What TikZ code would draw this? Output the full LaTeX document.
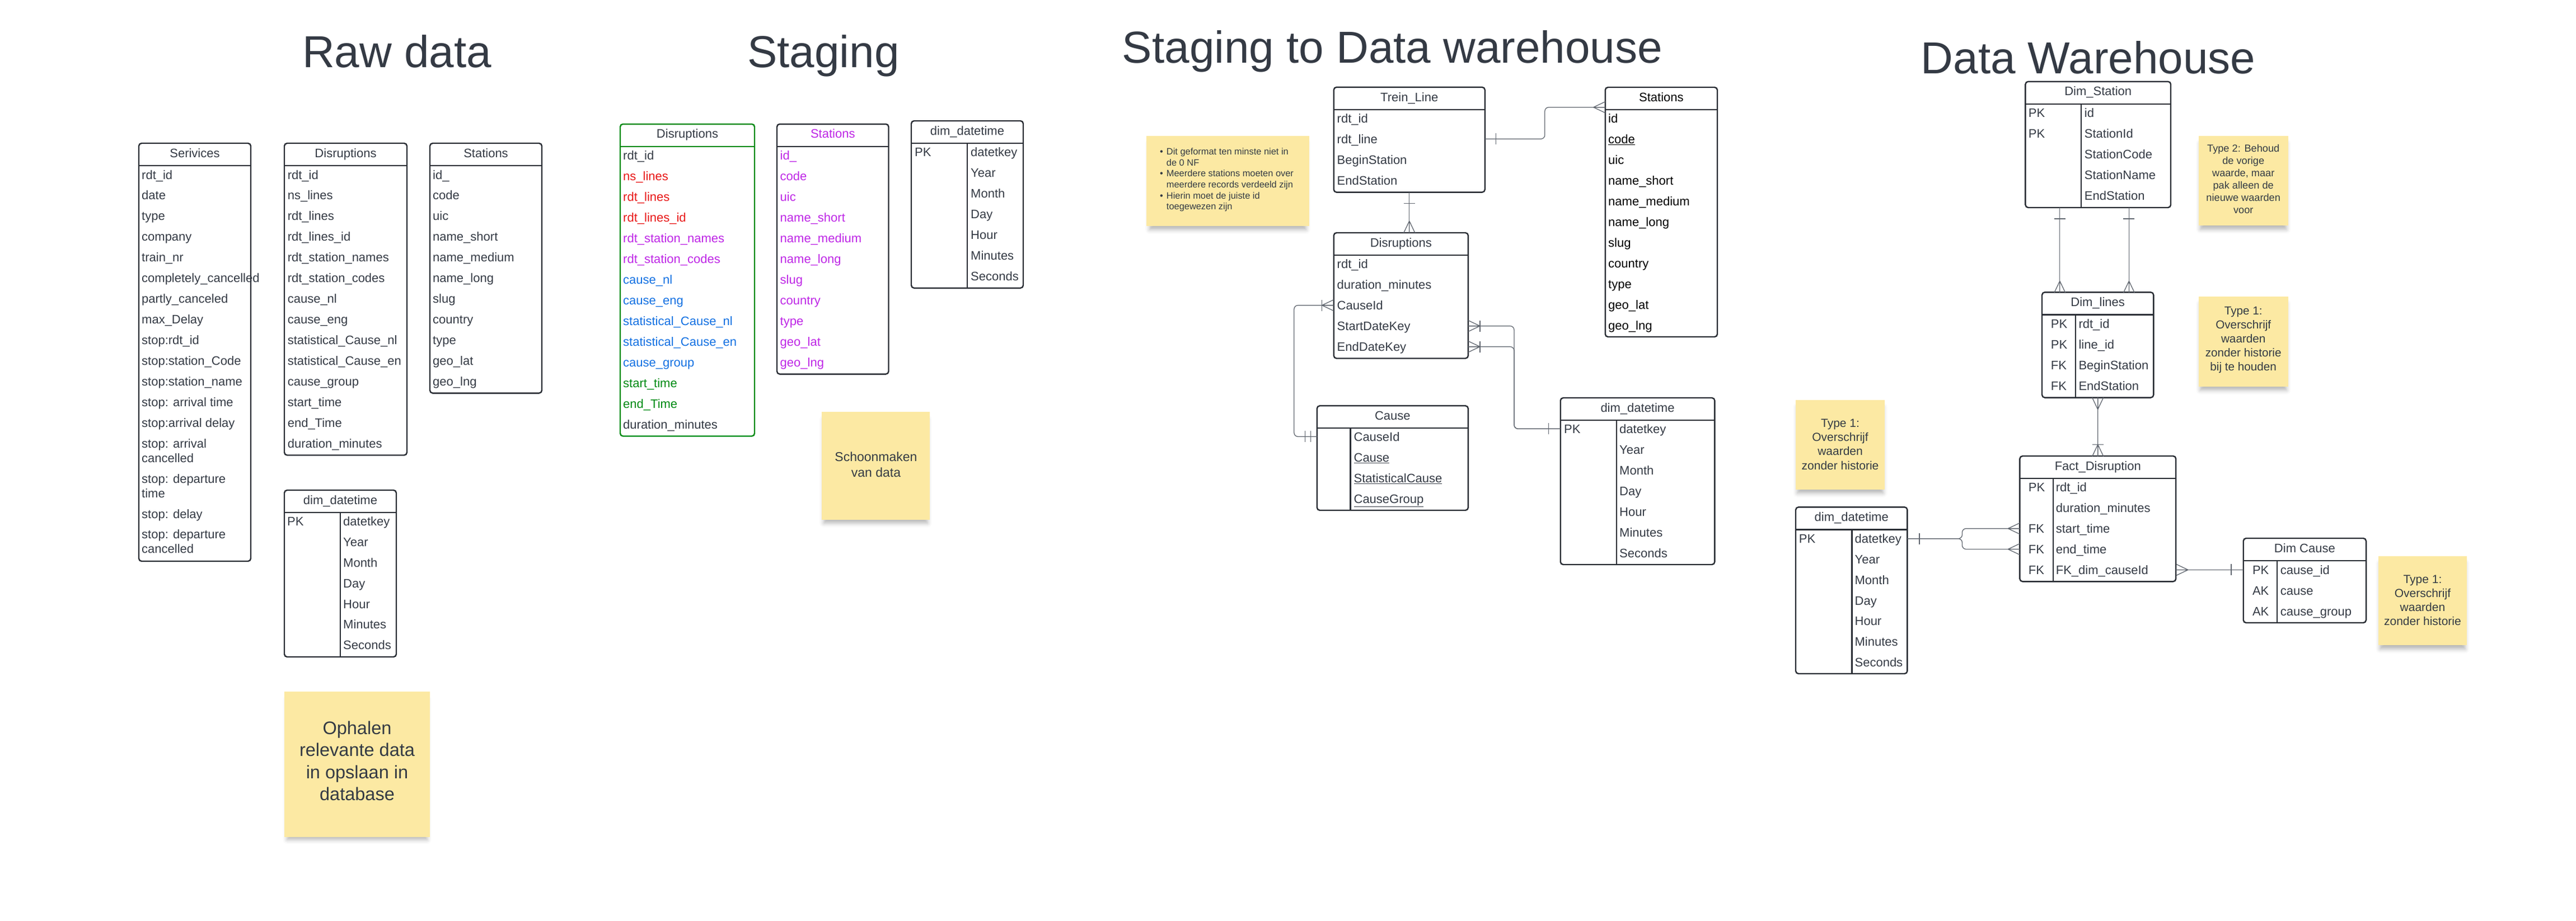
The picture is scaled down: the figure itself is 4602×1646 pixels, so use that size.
\documentclass[tikz,border=0pt]{standalone}
\usepackage{fontspec}
\setmainfont{Liberation Sans}
\definecolor{ink}{RGB}{52,58,68}
\definecolor{frame}{RGB}{40,44,51}
\definecolor{link}{RGB}{96,102,111}
\definecolor{notefill}{RGB}{252,233,163}
\definecolor{lnred}{RGB}{232,22,22}
\definecolor{lnpurple}{RGB}{190,38,230}
\definecolor{lnblue}{RGB}{18,112,226}
\definecolor{lngreen}{RGB}{0,138,18}
\usetikzlibrary{
	calc,
	fit,
	positioning,
	shadows.blur
}
\tikzset{
  % text
	csttitle/.style   ={inner sep=0pt, text height=57.6pt, text depth=0pt, text=ink, font=\fontsize{80}{90}\selectfont},
	csthead/.style    ={inner sep=0pt, text height=15.8pt, text depth=0pt, text=ink, font=\fontsize{22}{25.8}\selectfont},
	cstrow/.style     ={csthead, anchor=west},
	cstrows/.style    ={cstrow, text height=, text depth=, align=left},
  % table
	cstbox/.style     ={draw=frame, line width=2.4pt, rounded corners=5pt, fill=white, inner sep=0pt, outer sep=0pt},
	cstsep/.style     ={draw=frame, line width=2.4pt},
  % note
	cstnote/.style    ={fill=notefill, inner sep=0pt, outer sep=0pt, blur shadow={shadow xshift=0pt, shadow yshift=-10pt, shadow blur radius=8pt, shadow opacity=30, shadow scale=0.96}},
	cstnotetext/.style={inner sep=0pt, text=ink, align=center},
  % link
	cstlink/.style    ={draw=link, line width=1.3pt, rounded corners=7pt},
	cstcrow/.pic      ={\draw[cstlink, sharp corners] (0,0)--(21,-10) (0,0)--(21,0) (0,0)--(21,10);},
	cstbar/.pic       ={\draw[cstlink, sharp corners] (0,-10)--(0,10);}
}
\begin{document}
\begin{tikzpicture}[x=1pt,y=-1pt]
	\useasboundingbox (0,0) rectangle (4602,1646);
	\node[csttitle] (trawdata) at (709,91.5) {Raw data};
	\node[csttitle] (tstaging) at (1471,91.5) {Staging};
	\node[csttitle] (tstagdwh) at (2487.5,83.5) {Staging to Data warehouse};
	\node[csttitle] (tdwh) at (3730.5,102.5) {Data Warehouse};

	\node[cstbox, fit={(248,256) (448,1003)}] (rsrv) {};
	\draw[cstsep] ([yshift=-40]rsrv.north west) -- ([yshift=-40]rsrv.north east);
	\node[csthead] (rsrv-h) at ([yshift=-17.3]rsrv.north) {Serivices};
	\foreach \t [count=\i] in {rdt\_id,date,type,company,train\_nr,completely\_cancelled,partly\_canceled,max\_Delay,stop:rdt\_id,stop:station\_Code,stop:station\_name,stop: arrival time,stop:arrival delay}
		\node[cstrow] (rsrv-\i) at (253,{312.1+36.93*(\i-1)}) {\t};
	\node[cstrows] (rsrv-14) at (253,805.6) {stop: arrival\\cancelled};
	\node[cstrows] (rsrv-15) at (253,868.3) {stop: departure\\time};
	\node[cstrow] (rsrv-16) at (253,918.5) {stop: delay};
	\node[cstrows] (rsrv-17) at (253,968) {stop: departure\\cancelled};

	\node[cstbox, fit={(508,256) (727,813.5)}] (rdis) {};
	\draw[cstsep] ([yshift=-40]rdis.north west) -- ([yshift=-40]rdis.north east);
	\node[csthead] (rdis-h) at ([yshift=-17.3]rdis.north) {Disruptions};
	\foreach \t [count=\i] in {rdt\_id,ns\_lines,rdt\_lines,rdt\_lines\_id,rdt\_station\_names,rdt\_station\_codes,cause\_nl,cause\_eng,statistical\_Cause\_nl,statistical\_Cause\_en,cause\_group,start\_time,end\_Time,duration\_minutes}
		\node[cstrow] (rdis-\i) at (513.6,{312.1+36.93*(\i-1)}) {\t};

	\node[cstbox, fit={(768,256) (968,702.6)}] (rstn) {};
	\draw[cstsep] ([yshift=-40]rstn.north west) -- ([yshift=-40]rstn.north east);
	\node[csthead] (rstn-h) at ([yshift=-17.3]rstn.north) {Stations};
	\foreach \t [count=\i] in {id\_,code,uic,name\_short,name\_medium,name\_long,slug,country,type,geo\_lat,geo\_lng}
		\node[cstrow] (rstn-\i) at (773,{312.1+36.93*(\i-1)}) {\t};

	\node[cstbox, fit={(508,876) (708,1174)}] (rdt) {};
	\draw[cstsep] ([yshift=-40]rdt.north west) -- ([yshift=-40]rdt.north east);
	\draw[cstsep] ([xshift=99.7,yshift=-40]rdt.north west) -- ([xshift=99.7]rdt.south west);
	\node[csthead] (rdt-h) at ([yshift=-17.3]rdt.north) {dim\_datetime};
	\node[cstrow] (rdt-pk) at (513,931.5) {PK};
	\foreach \t [count=\i] in {datetkey,Year,Month,Day,Hour,Minutes,Seconds}
		\node[cstrow] (rdt-\i) at (613,{931.5+36.9*(\i-1)}) {\t};

	\node[cstnote, fit={(508,1236) (768,1496)}] (rnote) {};
	\node[cstnotetext, font=\fontsize{32.5}{39.5}\selectfont] (rnote-t) at (638,1360) {Ophalen\\relevante data\\in opslaan in\\database};

	\node[cstbox, draw=lngreen, fit={(1108,221.7) (1348,779.5)}] (sdis) {};
	\draw[cstsep, draw=lngreen] ([yshift=-40]sdis.north west) -- ([yshift=-40]sdis.north east);
	\node[csthead] (sdis-h) at ([yshift=-17.3]sdis.north) {Disruptions};
	\foreach \t/\c [count=\i] in {rdt\_id/ink,ns\_lines/lnred,rdt\_lines/lnred,rdt\_lines\_id/lnred,rdt\_station\_names/lnpurple,rdt\_station\_codes/lnpurple,cause\_nl/lnblue,cause\_eng/lnblue,statistical\_Cause\_nl/lnblue,statistical\_Cause\_en/lnblue,cause\_group/lnblue,start\_time/lngreen,end\_Time/lngreen,duration\_minutes/ink}
		\node[cstrow, text=\c] (sdis-\i) at (1113,{277.4+37*(\i-1)}) {\t};

	\node[cstbox, fit={(1388,221.7) (1587.5,668.6)}] (sstn) {};
	\draw[cstsep] ([yshift=-40]sstn.north west) -- ([yshift=-40]sstn.north east);
	\node[csthead, text=lnpurple] (sstn-h) at ([yshift=-17.3]sstn.north) {Stations};
	\foreach \t [count=\i] in {id\_,code,uic,name\_short,name\_medium,name\_long,slug,country,type,geo\_lat,geo\_lng}
		\node[cstrow, text=lnpurple] (sstn-\i) at (1393.5,{277.4+37*(\i-1)}) {\t};

	\node[cstbox, fit={(1628,216) (1828,514.8)}] (sdt) {};
	\draw[cstsep] ([yshift=-40]sdt.north west) -- ([yshift=-40]sdt.north east);
	\draw[cstsep] ([xshift=100,yshift=-40]sdt.north west) -- ([xshift=100]sdt.south west);
	\node[csthead] (sdt-h) at ([yshift=-17.3]sdt.north) {dim\_datetime};
	\node[cstrow] (sdt-pk) at (1634,271.7) {PK};
	\foreach \t [count=\i] in {datetkey,Year,Month,Day,Hour,Minutes,Seconds}
		\node[cstrow] (sdt-\i) at (1734,{271.7+37*(\i-1)}) {\t};

	\node[cstnote, fit={(1468,735.6) (1660.6,929)}] (snote) {};
	\node[cstnotetext, font=\fontsize{23}{28.6}\selectfont] (snote-t) at (1565,830.3) {Schoonmaken\\van data};

	\node[cstnote, fit={(2048,243) (2339,403.8)}] (wnote) {};
	\node[anchor=west, inner sep=0pt, text=ink, font=\fontsize{16.4}{19.7}\selectfont] (wnote-t) at (2072,321.8) {\begin{tabular}{@{}l@{\hspace{6pt}}l@{}}
		\textbullet & Dit geformat ten minste niet in\\
		 & de 0 NF\\
		\textbullet & Meerdere stations moeten over\\
		 & meerdere records verdeeld zijn\\
		\textbullet & Hierin moet de juiste id\\
		 & toegewezen zijn
	\end{tabular}};

	\node[cstbox, fit={(2382.7,155.8) (2652.8,343.6)}] (trein) {};
	\draw[cstsep] ([yshift=-40]trein.north west) -- ([yshift=-40]trein.north east);
	\node[csthead] (trein-h) at ([yshift=-17.3]trein.north) {Trein\_Line};
	\foreach \t [count=\i] in {rdt\_id,rdt\_line,BeginStation,EndStation}
		\node[cstrow] (trein-\i) at (2388.5,{211.4+36.9*(\i-1)}) {\t};

	\node[cstbox, fit={(2867.7,156) (3068,602)}] (wstn) {};
	\draw[cstsep] ([yshift=-40]wstn.north west) -- ([yshift=-40]wstn.north east);
	\node[csthead, text=black] (wstn-h) at ([yshift=-17.3]wstn.north) {Stations};
	\foreach \t [count=\i] in {id,\underline{code},uic,name\_short,name\_medium,name\_long,slug,country,type,geo\_lat,geo\_lng}
		\node[cstrow, text=black] (wstn-\i) at (2873,{211.8+37*(\i-1)}) {\t};

	\node[cstbox, fit={(2382.7,416) (2622.9,640.5)}] (wdis) {};
	\draw[cstsep] ([yshift=-40]wdis.north west) -- ([yshift=-40]wdis.north east);
	\node[csthead] (wdis-h) at ([yshift=-17.3]wdis.north) {Disruptions};
	\foreach \t [count=\i] in {rdt\_id,duration\_minutes,CauseId,StartDateKey,EndDateKey}
		\node[cstrow] (wdis-\i) at (2388.5,{471.6+37*(\i-1)}) {\t};

	\node[cstbox, fit={(2352.8,725.2) (2622.9,912)}] (wcause) {};
	\draw[cstsep] ([yshift=-40]wcause.north west) -- ([yshift=-40]wcause.north east);
	\draw[cstsep] ([xshift=59.8,yshift=-40]wcause.north west) -- ([xshift=59.8]wcause.south west);
	\node[csthead] (wcause-h) at ([yshift=-17.3]wcause.north) {Cause};
	\foreach \t [count=\i] in {CauseId,\underline{Cause},\underline{StatisticalCause},\underline{CauseGroup}}
		\node[cstrow] (wcause-\i) at (2418.4,{780.3+37*(\i-1)}) {\t};

	\node[cstbox, fit={(2787.7,711) (3063.3,1009)}] (wdt) {};
	\draw[cstsep] ([yshift=-40]wdt.north west) -- ([yshift=-40]wdt.north east);
	\draw[cstsep] ([xshift=100,yshift=-40]wdt.north west) -- ([xshift=100]wdt.south west);
	\node[csthead] (wdt-h) at ([yshift=-17.3]wdt.north) {dim\_datetime};
	\node[cstrow] (wdt-pk) at (2794,766.3) {PK};
	\foreach \t [count=\i] in {datetkey,Year,Month,Day,Hour,Minutes,Seconds}
		\node[cstrow] (wdt-\i) at (2893,{766.3+37*(\i-1)}) {\t};

	\node[cstbox, fit={(3618.4,145.7) (3878,371)}] (dst) {};
	\draw[cstsep] ([yshift=-40]dst.north west) -- ([yshift=-40]dst.north east);
	\draw[cstsep] ([xshift=99.6,yshift=-40]dst.north west) -- ([xshift=99.6]dst.south west);
	\node[csthead] (dst-h) at ([yshift=-17.3]dst.north) {Dim\_Station};
	\node[cstrow] (dst-k1) at (3623.6,201.6) {PK};
	\node[cstrow] (dst-k2) at (3623.6,238.7) {PK};
	\foreach \t [count=\i] in {id,StationId,StationCode,StationName,EndStation}
		\node[cstrow] (dst-\i) at (3723.7,{201.6+37*(\i-1)}) {\t};

	\node[cstbox, fit={(3648,522.3) (3847.3,710.6)}] (dln) {};
	\draw[cstsep] ([yshift=-40]dln.north west) -- ([yshift=-40]dln.north east);
	\draw[cstsep] ([xshift=60,yshift=-40]dln.north west) -- ([xshift=60]dln.south west);
	\node[csthead] (dln-h) at ([yshift=-17.3]dln.north) {Dim\_lines};
	\foreach \k/\t [count=\i] in {PK/rdt\_id,PK/line\_id,FK/BeginStation,FK/EndStation}{
		\node[cstrow] (dln-k\i) at (3663.7,{578.5+37*(\i-1)}) {\k};
		\node[cstrow] (dln-\i) at (3713.3,{578.5+37*(\i-1)}) {\t};
	}

	\node[cstbox, fit={(3608.3,815) (3887.2,1039.3)}] (fact) {};
	\draw[cstsep] ([yshift=-40]fact.north west) -- ([yshift=-40]fact.north east);
	\draw[cstsep] ([xshift=59.5,yshift=-40]fact.north west) -- ([xshift=59.5]fact.south west);
	\node[csthead] (fact-h) at ([yshift=-17.3]fact.north) {Fact\_Disruption};
	\foreach \t [count=\i] in {rdt\_id,duration\_minutes,start\_time,end\_time,FK\_dim\_causeId}
		\node[cstrow] (fact-\i) at (3672.6,{870.8+36.9*(\i-1)}) {\t};
	\foreach \k/\i in {PK/1,FK/3,FK/4,FK/5}
		\node[cstrow] (fact-k\i) at (3623.6,{870.8+36.9*(\i-1)}) {\k};

	\node[cstbox, fit={(3208,906.3) (3407.4,1204)}] (ddt) {};
	\draw[cstsep] ([yshift=-40]ddt.north west) -- ([yshift=-40]ddt.north east);
	\draw[cstsep] ([xshift=100.6,yshift=-40]ddt.north west) -- ([xshift=100.6]ddt.south west);
	\node[csthead] (ddt-h) at ([yshift=-17.3]ddt.north) {dim\_datetime};
	\node[cstrow] (ddt-pk) at (3213.7,962.7) {PK};
	\foreach \t [count=\i] in {datetkey,Year,Month,Day,Hour,Minutes,Seconds}
		\node[cstrow] (ddt-\i) at (3313.4,{962.7+36.8*(\i-1)}) {\t};

	\node[cstbox, fit={(4007.7,962) (4227,1113)}] (dca) {};
	\draw[cstsep] ([yshift=-40]dca.north west) -- ([yshift=-40]dca.north east);
	\draw[cstsep] ([xshift=60.3,yshift=-40]dca.north west) -- ([xshift=60.3]dca.south west);
	\node[csthead] (dca-h) at ([yshift=-17.3]dca.north) {Dim Cause};
	\foreach \k/\t [count=\i] in {PK/cause\_id,AK/cause,AK/cause\_group}{
		\node[cstrow] (dca-k\i) at (4023.8,{1018.4+37*(\i-1)}) {\k};
		\node[cstrow] (dca-\i) at (4073.6,{1018.4+37*(\i-1)}) {\t};
	}

	\node[cstnote, fit={(3927.7,243.3) (4087.7,403.3)}] (dnote1) {};
	\node[cstnotetext, font=\fontsize{18.2}{22}\selectfont] (dnote1-t) at (4007.7,320) {Type 2: Behoud\\de vorige\\waarde, maar\\pak alleen de\\nieuwe waarden\\voor};
	\node[cstnote, fit={(3927.7,530) (4087.7,690.7)}] (dnote2) {};
	\node[cstnotetext, font=\fontsize{20.7}{25}\selectfont] (dnote2-t) at (4007.7,607.5) {Type 1:\\Overschrijf\\waarden\\zonder historie\\bij te houden};
	\node[cstnote, fit={(3208,715) (3367,874.8)}] (dnote3) {};
	\node[cstnotetext, font=\fontsize{21}{25.2}\selectfont] (dnote3-t) at (3287.5,794.2) {Type 1:\\Overschrijf\\waarden\\zonder historie};
	\node[cstnote, fit={(4248.8,993.9) (4407,1153.4)}] (dnote4) {};
	\node[cstnotetext, font=\fontsize{21}{24.9}\selectfont] (dnote4-t) at (4327.9,1073) {Type 1:\\Overschrijf\\waarden\\zonder historie};

	\coordinate (tlout) at (trein.east |- trein-2);
	\coordinate (stnin) at (2867.7,191.7);
	\draw[cstlink] (tlout) -- ++(107,0) |- (stnin);
	\pic at ($(tlout)+(20,0)$) {cstbar};
	\pic at ($(stnin)+(-21,0)$) {cstcrow};

	\draw[cstlink] (trein.south) -- (trein.south |- wdis.north);
	\pic[rotate=90] at ($(trein.south)+(0,20)$) {cstbar};
	\pic[rotate=-90] at ($(trein.south |- wdis.north)+(0,-21)$) {cstcrow};

	\coordinate (cout) at (wcause.west |- wcause-1);
	\coordinate (din) at (wdis.west |- wdis-3);
	\draw[cstlink] (cout) -- ++(-41,0) |- (din);
	\pic at ($(cout)+(-11.5,0)$) {cstbar};
	\pic at ($(cout)+(-21.5,0)$) {cstbar};
	\pic at ($(din)+(-21,0)$) {cstcrow};
	\pic at ($(din)+(-21,0)$) {cstbar};

	\coordinate (dstart) at (wdis.east |- wdis-4);
	\coordinate (dend) at (wdis.east |- wdis-5);
	\coordinate (tin) at (wdt.west |- wdt-1);
	\draw[cstlink] (dstart) -- ++(82,0) |- (tin);
	\draw[cstlink] (dend) -- ++(82,0) |- (tin);
	\pic[rotate=180] at ($(dstart)+(21,0)$) {cstcrow};
	\pic at ($(dstart)+(21,0)$) {cstbar};
	\pic[rotate=180] at ($(dend)+(21,0)$) {cstcrow};
	\pic at ($(dend)+(21,0)$) {cstbar};
	\pic at ($(tin)+(-21,0)$) {cstbar};

	\coordinate (lin1) at ($(dln.north west)+(31.8,0)$);
	\coordinate (lin2) at ($(dln.north west)+(155.4,0)$);
	\draw[cstlink] (dst.south -| lin1) -- (lin1);
	\draw[cstlink] (dst.south -| lin2) -- (lin2);
	\pic[rotate=90] at ($(dst.south -| lin1)+(0,20)$) {cstbar};
	\pic[rotate=90] at ($(dst.south -| lin2)+(0,20)$) {cstbar};
	\pic[rotate=-90] at ($(lin1)+(0,-20)$) {cstcrow};
	\pic[rotate=-90] at ($(lin2)+(0,-20)$) {cstcrow};

	\draw[cstlink] (dln.south) -- (fact.north);
	\pic[rotate=90] at ($(dln.south)+(0,21)$) {cstcrow};
	\pic[rotate=-90] at ($(fact.north)+(0,-20.5)$) {cstcrow};
	\pic[rotate=90] at ($(fact.north)+(0,-20.5)$) {cstbar};

	\coordinate (kout) at (ddt.east |- ddt-1);
	\coordinate (fin1) at (fact.west |- fact-3);
	\coordinate (fin2) at (fact.west |- fact-4);
	\draw[cstlink] (kout) -- ++(98,0) |- (fin1);
	\draw[cstlink] (kout) -- ++(98,0) |- (fin2);
	\pic at ($(kout)+(21.6,0)$) {cstbar};
	\pic at ($(fin1)+(-21,0)$) {cstcrow};
	\pic at ($(fin2)+(-21,0)$) {cstcrow};

	\coordinate (fout) at (fact.east |- fact-5);
	\coordinate (cin) at (dca.west |- dca-1);
	\draw[cstlink] (fout) -- (cin);
	\pic[rotate=180] at ($(fout)+(21.7,0)$) {cstcrow};
	\pic at ($(cin)+(-21.7,0)$) {cstbar};
\end{tikzpicture}
\end{document}
